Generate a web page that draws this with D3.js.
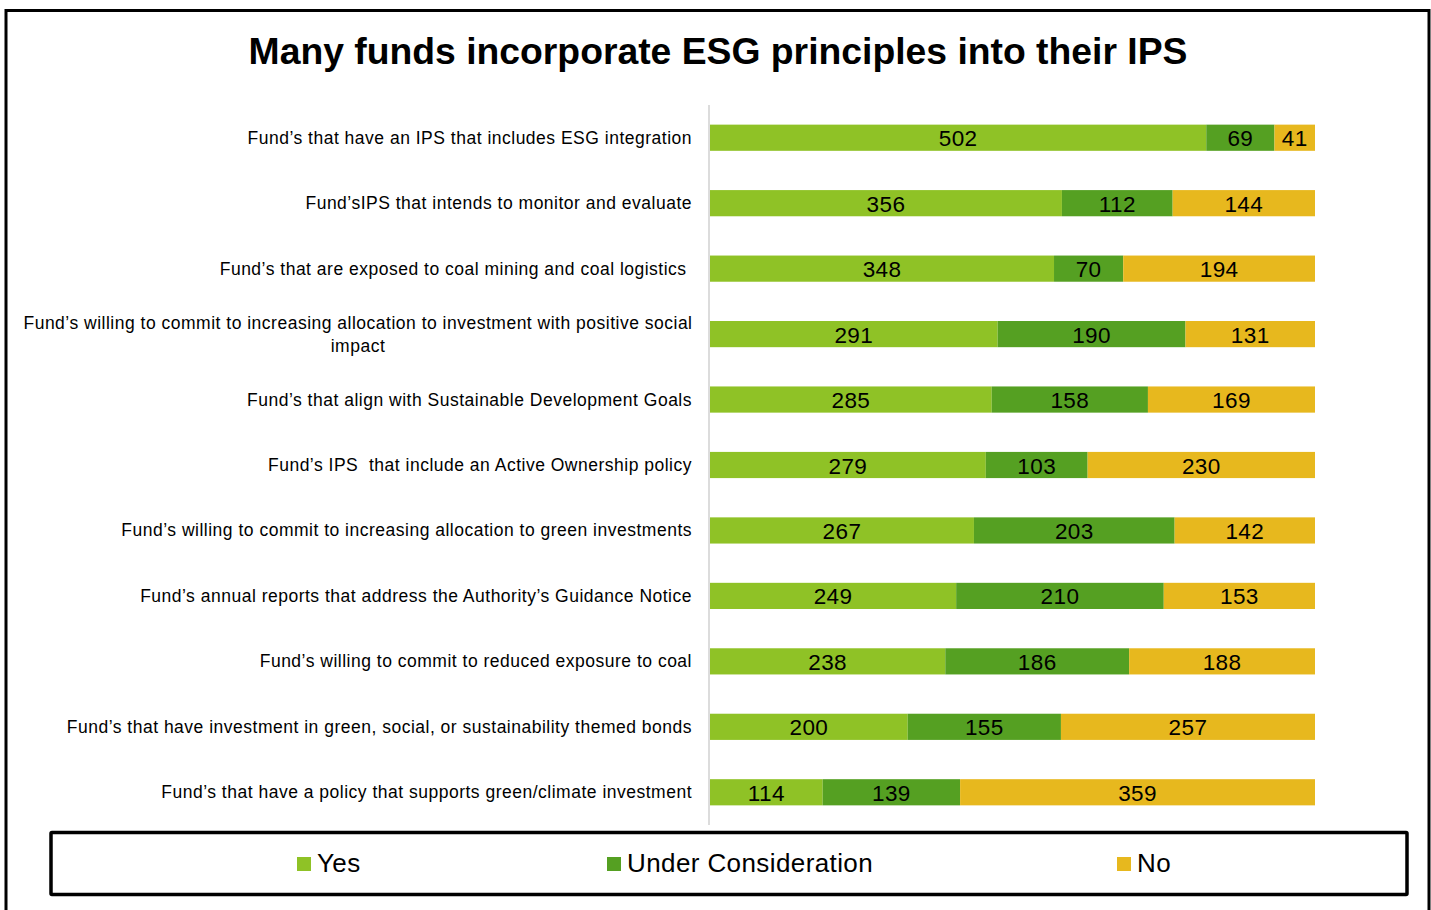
<!DOCTYPE html>
<html><head><meta charset="utf-8">
<script src="https://cdn.jsdelivr.net/npm/d3@7"></script>
<style>body{margin:0;background:#fff}svg{display:block}text{font-family:Arial,"Liberation Sans",sans-serif}</style>
</head><body>
<svg id="c" width="1431" height="910"></svg>
<script>
const categories = [
  "Fund’s that have an IPS that includes ESG integration",
  "Fund’sIPS that intends to monitor and evaluate",
  "Fund’s that are exposed to coal mining and coal logistics ",
  "Fund’s willing to commit to increasing allocation to investment with positive social impact",
  "Fund’s that align with Sustainable Development Goals",
  "Fund’s IPS  that include an Active Ownership policy",
  "Fund’s willing to commit to increasing allocation to green investments",
  "Fund’s annual reports that address the Authority’s Guidance Notice",
  "Fund’s willing to commit to reduced exposure to coal",
  "Fund’s that have investment in green, social, or sustainability themed bonds",
  "Fund’s that have a policy that supports green/climate investment"
];
const seriesNames = ["Yes","Under Consideration","No"];
const yes = [502,356,348,291,285,279,267,249,238,200,114];
const under = [69,112,70,190,158,103,203,210,186,155,139];
const no = [41,144,194,131,169,230,142,153,188,257,359];
const colors = ["#8FC226","#55A022","#E7B81E"];
const title = "Many funds incorporate ESG principles into their IPS";

const svg = d3.select("#c");
svg.append("rect").attr("x",6).attr("y",10.5).attr("width",1423).attr("height",920)
  .attr("fill","none").attr("stroke","#000").attr("stroke-width",3);

svg.append("text").attr("x",718).attr("y",64).attr("text-anchor","middle")
  .attr("font-size",37.3).attr("font-weight","bold").text(title);

const data = categories.map((c,i)=>({cat:c, vals:[yes[i],under[i],no[i]]}));
const x = d3.scaleLinear().domain([0,612]).range([710,1315]);
const y = d3.scaleBand().domain(categories).range([105,825]).paddingInner(0.6).paddingOuter(0.3);

svg.append("line").attr("x1",709).attr("x2",709).attr("y1",105).attr("y2",825)
  .attr("stroke","#d0d0d0").attr("stroke-width",1.5);

const stack = d3.stack().keys([0,1,2]).value((d,k)=>d.vals[k])(data);
stack.forEach((layer,k)=>{
  const g = svg.append("g");
  g.selectAll("rect").data(layer).join("rect")
    .attr("x",d=>x(d[0])).attr("width",d=>x(d[1])-x(d[0]))
    .attr("y",(d,i)=>y(categories[i])).attr("height",y.bandwidth())
    .attr("fill",colors[k]);
  g.selectAll("text").data(layer).join("text")
    .attr("x",d=>(x(d[0])+x(d[1]))/2)
    .attr("y",(d,i)=>y(categories[i])+y.bandwidth()/2+8.5)
    .attr("text-anchor","middle").attr("font-size",22.5).attr("letter-spacing",0.4).attr("fill","#000")
    .text(d=>d[1]-d[0]);
});

categories.forEach((c,i)=>{
  const cy = y(c)+y.bandwidth()/2;
  if(i===3){
    const t = svg.append("text").attr("text-anchor","middle").attr("font-size",17.5).attr("letter-spacing",0.5);
    t.append("tspan").attr("x",358).attr("y",cy-5).text("Fund’s willing to commit to increasing allocation to investment with positive social");
    t.append("tspan").attr("x",358).attr("y",cy+18).text("impact");
  } else {
    svg.append("text").attr("x",692).attr("y",cy+6).attr("text-anchor","end")
      .attr("font-size",17.5).attr("letter-spacing",0.5).style("white-space","pre").text(c);
  }
});

svg.append("rect").attr("x",51).attr("y",832.5).attr("width",1356).attr("height",62)
  .attr("fill","#fff").attr("stroke","#000").attr("stroke-width",3.5).attr("rx",1);
const legX = [297,607,1117];
seriesNames.forEach((n,k)=>{
  svg.append("rect").attr("x",legX[k]).attr("y",857).attr("width",14).attr("height",14).attr("fill",colors[k]);
  svg.append("text").attr("x",legX[k]+20).attr("y",872).attr("font-size",26).attr("letter-spacing",0.4).text(n);
});
</script>
</body></html>
